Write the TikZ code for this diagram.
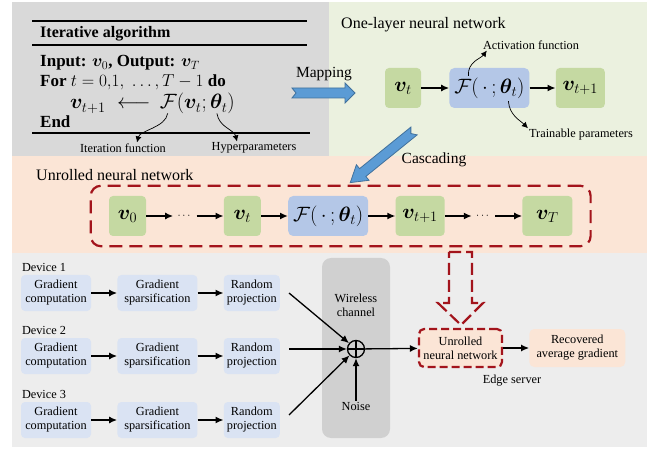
\documentclass[tikz,border=0pt]{standalone}
\usepackage{amsmath}
\usepackage{bm}
\usepackage{fontspec}
\setmainfont{Liberation Serif}
\usepackage{xcolor}
\usetikzlibrary{positioning, arrows.meta, fit}

\definecolor{panelgray}{HTML}{D9D9D9}
\definecolor{panelgreen}{HTML}{EBF1DF}
\definecolor{panelpeach}{HTML}{FBE5D6}
\definecolor{panellight}{HTML}{EDEDED}
\definecolor{nodegreen}{HTML}{C5D9A2}
\definecolor{nodeblue}{HTML}{B4C7E7}
\definecolor{devblue}{HTML}{DAE3F3}
\definecolor{chgray}{HTML}{D0D0D0}
\definecolor{framered}{HTML}{A3141C}
\definecolor{arrowblue}{HTML}{5B9BD5}
\definecolor{arrowedge}{HTML}{41719C}

\begin{document}
\begin{tikzpicture}[x=1pt, y=-1pt, node distance=27pt,
    algtxt/.style={anchor=west, inner sep=0pt, font=\fontsize{16}{19}\selectfont},
    algline/.style={anchor=base west, inner sep=0pt, font=\fontsize{17}{20}\selectfont},
    algmath/.style={anchor=base west, inner sep=0pt, font=\fontsize{20}{22}\selectfont},
    titletxt/.style={anchor=west, inner sep=0pt, font=\fontsize{16}{19}\selectfont},
    lbl/.style={inner sep=1pt, align=center, font=\fontsize{12.3}{14}\selectfont},
    midtxt/.style={inner sep=1pt, font=\fontsize{15.5}{18}\selectfont},
    greennode/.style={rectangle, rounded corners=4pt, fill=nodegreen, minimum height=40pt, inner sep=1pt, font=\fontsize{20}{22}\selectfont},
    fnode/.style={rectangle, rounded corners=5pt, fill=nodeblue, minimum height=40pt, minimum width=80pt, inner sep=1pt, font=\fontsize{20}{22}\selectfont},
    dotsnode/.style={minimum width=23pt, inner sep=0pt, font=\fontsize{11}{12}\selectfont},
    devnode/.style={rectangle, rounded corners=4pt, fill=devblue, minimum height=36pt, inner xsep=2pt, align=center, font=\fontsize{12.3}{14}\selectfont},
    channel/.style={rectangle, rounded corners=9pt, fill=chgray, minimum width=68pt, minimum height=180pt},
    sumnode/.style={circle, draw, line width=1.3pt, minimum size=17pt, inner sep=0pt,
        path picture={\draw[line width=1.3pt] (path picture bounding box.north) -- (path picture bounding box.south)
            (path picture bounding box.west) -- (path picture bounding box.east);}},
    unrnode/.style={rectangle, rounded corners=5pt, fill=panelpeach, draw=framered, line width=2.2pt, dash pattern=on 8pt off 4pt,
        minimum width=83pt, minimum height=38pt, inner sep=1pt, align=center, font=\fontsize{12.3}{14}\selectfont},
    recnode/.style={rectangle, rounded corners=5pt, fill=panelpeach, minimum width=96pt, minimum height=38pt, inner sep=1pt,
        align=center, font=\fontsize{12.3}{14}\selectfont},
    rule/.style={line width=1.4pt},
    flow/.style={-{Latex[length=8pt,width=7pt]}, line width=2.2pt},
    thinflow/.style={-{Latex[length=8pt,width=7pt]}, line width=1.3pt},
    curly/.style={-{Latex[length=6pt,width=6pt]}, line width=0.7pt},
    blockarrow/.style={fill=arrowblue, draw=arrowedge, line width=0.8pt}]
    \useasboundingbox (0,0) rectangle (659,449);
    % Panels
    \fill[panelgray] (12,2) rectangle (329,156);
    \fill[panelgreen] (329,2) rectangle (647,156);
    \fill[panelpeach] (12,156) rectangle (647,253);
    \fill[panellight] (12,253) rectangle (647,447);

    % Iterative algorithm
    \draw[rule] (32,21) -- (307,21);
    \draw[rule] (32,45) -- (307,45);
    \draw[rule] (32,133) -- (310,133);
    \node[algtxt] (algtitle) at (40,34) {\textbf{Iterative algorithm}};
    \node[algline] (algin) at (40,67) {\textbf{Input:} $\bm{v}_0$\textbf{, Output:} $\bm{v}_T$};
    \node[algline] (algfor) at (40,86.5) {\textbf{For} $t=0{,}1{,}\;\ldots{,}\,T-1$ \textbf{do}};
    \node[algmath] (updlhs) at (70,109) {$\bm{v}_{t+1}\;\longleftarrow$};
    \node[algmath] (updfun) at ([xshift=9pt]updlhs.base east) {$\mathcal{F}(\bm{v}_t;$};
    \node[algmath] (updpar) at ([xshift=3pt]updfun.base east) {$\bm{\theta}_t)$};
    \node[algline] (algend) at (40,127.5) {\textbf{End}};
    \node[lbl] (iterlbl) at (123,148) {Iteration function};
    \node[lbl] (hyplbl) at (254,148) {Hyperparameters};
    \coordinate (fmark) at ([xshift=8pt,yshift=1pt]updfun.south west);
    \coordinate (thmark) at ([xshift=7pt,yshift=1pt]updpar.south west);
    \draw[curly] (fmark) .. controls +(-2,14) and +(3,-12) .. ([xshift=14pt]iterlbl.north);
    \draw[curly] (thmark) .. controls +(2,14) and +(-3,-12) .. ([xshift=-17pt]hyplbl.north);

    % One-layer neural network
    \node[titletxt] (onetitle) at (341,25) {One-layer neural network};
    \node[greennode, minimum width=36pt] (vt) at (403,88) {$\bm{v}_t$};
    \node[fnode, right=28pt of vt] (layer) {$\mathcal{F}(\,\cdot\,;\bm{\theta}_t)$};
    \node[greennode, minimum width=49pt, right=26pt of layer] (vnext) {$\bm{v}_{t+1}$};
    \node[lbl] (actlbl) at (531,45) {Activation function};
    \node[lbl] (trainlbl) at (581,135) {Trainable parameters};
    % Arrows
    \draw[flow] (vt) -- (layer);
    \draw[flow] (layer) -- (vnext);
    \draw[curly] ([xshift=-21pt,yshift=-8pt]layer.north) .. controls +(-1,-14) and +(-6,8) .. ([xshift=5pt]actlbl.south west);
    \draw[curly] ([xshift=19pt,yshift=7pt]layer.south) .. controls +(1,14) and +(-8,-8) .. (trainlbl.north west);

    % Mapping and cascading
    \draw[blockarrow] (292,88) -- (345,88) -- (345,83) -- (355,93) -- (345,103) -- (345,98) -- (292,98) -- (296,93) -- cycle;
    \node[midtxt] (maplbl) at (324,74) {Mapping};
    \begin{scope}[shift={(414,131)}, rotate=219]
        \draw[blockarrow] (0,-5) -- (66,-5) -- (66,-10) -- (82,0) -- (66,10) -- (66,5) -- (0,5) -- (4,0) -- cycle;
    \end{scope}
    \node[midtxt] (caslbl) at (434,160) {Cascading};

    % Unrolled neural network
    \node[titletxt] (unrtitle) at (36,175) {Unrolled neural network};
    \node[greennode, minimum width=37pt] (u0) at (127.5,216) {$\bm{v}_0$};
    \node[dotsnode, right=of u0] (dots1) {$\cdots$};
    \node[greennode, minimum width=37pt, right=of dots1] (ut) {$\bm{v}_t$};
    \node[fnode, right=of ut] (ulayer) {$\mathcal{F}(\,\cdot\,;\bm{\theta}_t)$};
    \node[greennode, minimum width=49pt, right=of ulayer] (unext) {$\bm{v}_{t+1}$};
    \node[dotsnode, right=of unext] (dots2) {$\cdots$};
    \node[greennode, minimum width=50pt, right=of dots2] (uT) {$\bm{v}_T$};
    \node[draw=framered, line width=2.2pt, dash pattern=on 13pt off 7pt, rounded corners=10pt,
        inner xsep=18pt, inner ysep=10pt, fit=(u0)(uT)] (frame) {};
    % Arrows
    \draw[flow] (u0) -- (dots1);
    \draw[flow] (dots1) -- (ut);
    \draw[flow] (ut) -- (ulayer);
    \draw[flow] (ulayer) -- (unext);
    \draw[flow] (unext) -- (dots2);
    \draw[flow] (dots2) -- (uT);

    % Devices
    \node[devnode, minimum width=70pt] (gc1) at (56,293) {Gradient\\computation};
    \node[devnode, minimum width=80pt, right=26pt of gc1] (gs1) {Gradient\\sparsification};
    \node[devnode, minimum width=56pt, right=26pt of gs1] (rp1) {Random\\projection};
    \node[devnode, minimum width=70pt] (gc2) at (56,356) {Gradient\\computation};
    \node[devnode, minimum width=80pt, right=26pt of gc2] (gs2) {Gradient\\sparsification};
    \node[devnode, minimum width=56pt, right=26pt of gs2] (rp2) {Random\\projection};
    \node[devnode, minimum width=70pt] (gc3) at (56,420) {Gradient\\computation};
    \node[devnode, minimum width=80pt, right=26pt of gc3] (gs3) {Gradient\\sparsification};
    \node[devnode, minimum width=56pt, right=26pt of gs3] (rp3) {Random\\projection};
    \node[lbl, anchor=south west] (dev1) at ([yshift=2pt]gc1.north west) {Device 1};
    \node[lbl, anchor=south west] (dev2) at ([yshift=2pt]gc2.north west) {Device 2};
    \node[lbl, anchor=south west] (dev3) at ([yshift=2pt]gc3.north west) {Device 3};
    \draw[flow] (gc1) -- (gs1);
    \draw[flow] (gs1) -- (rp1);
    \draw[flow] (gc2) -- (gs2);
    \draw[flow] (gs2) -- (rp2);
    \draw[flow] (gc3) -- (gs3);
    \draw[flow] (gs3) -- (rp3);

    % Channel and edge server
    \node[channel] (chan) at (356,348) {};
    \node[lbl] (chanlbl) at (356,305) {Wireless\\channel};
    \node[sumnode] (sum) at (356,349) {};
    \node[lbl] (noise) at (356,406) {Noise};
    \coordinate (in1) at ([xshift=9pt]rp1.east);
    \coordinate (in2) at ([xshift=9pt]rp2.east);
    \coordinate (in3) at ([xshift=9pt,yshift=5pt]rp3.east);
    \draw[thinflow] (in1) -- (sum);
    \draw[thinflow] (in2 |- sum) -- (sum);
    \draw[thinflow] (in3) -- (sum);
    \draw[thinflow] (noise) -- (sum);
    \node[unrnode] (unr) at (460.5,348) {Unrolled\\neural network};
    \node[recnode, right=26pt of unr] (rec) {Recovered\\average gradient};
    \node[lbl] (edgelbl) at (512,381) {Edge server};
    \draw[thinflow] (sum) -- (unr);
    \draw[thinflow] (unr) -- (rec);
    \draw[framered, line width=2.2pt, dash pattern=on 12pt off 5pt]
        (449,252) -- (472,252) -- (472,303) -- (483,303) -- (461,325) -- (438,303) -- (449,303) -- cycle;
\end{tikzpicture}
\end{document}
